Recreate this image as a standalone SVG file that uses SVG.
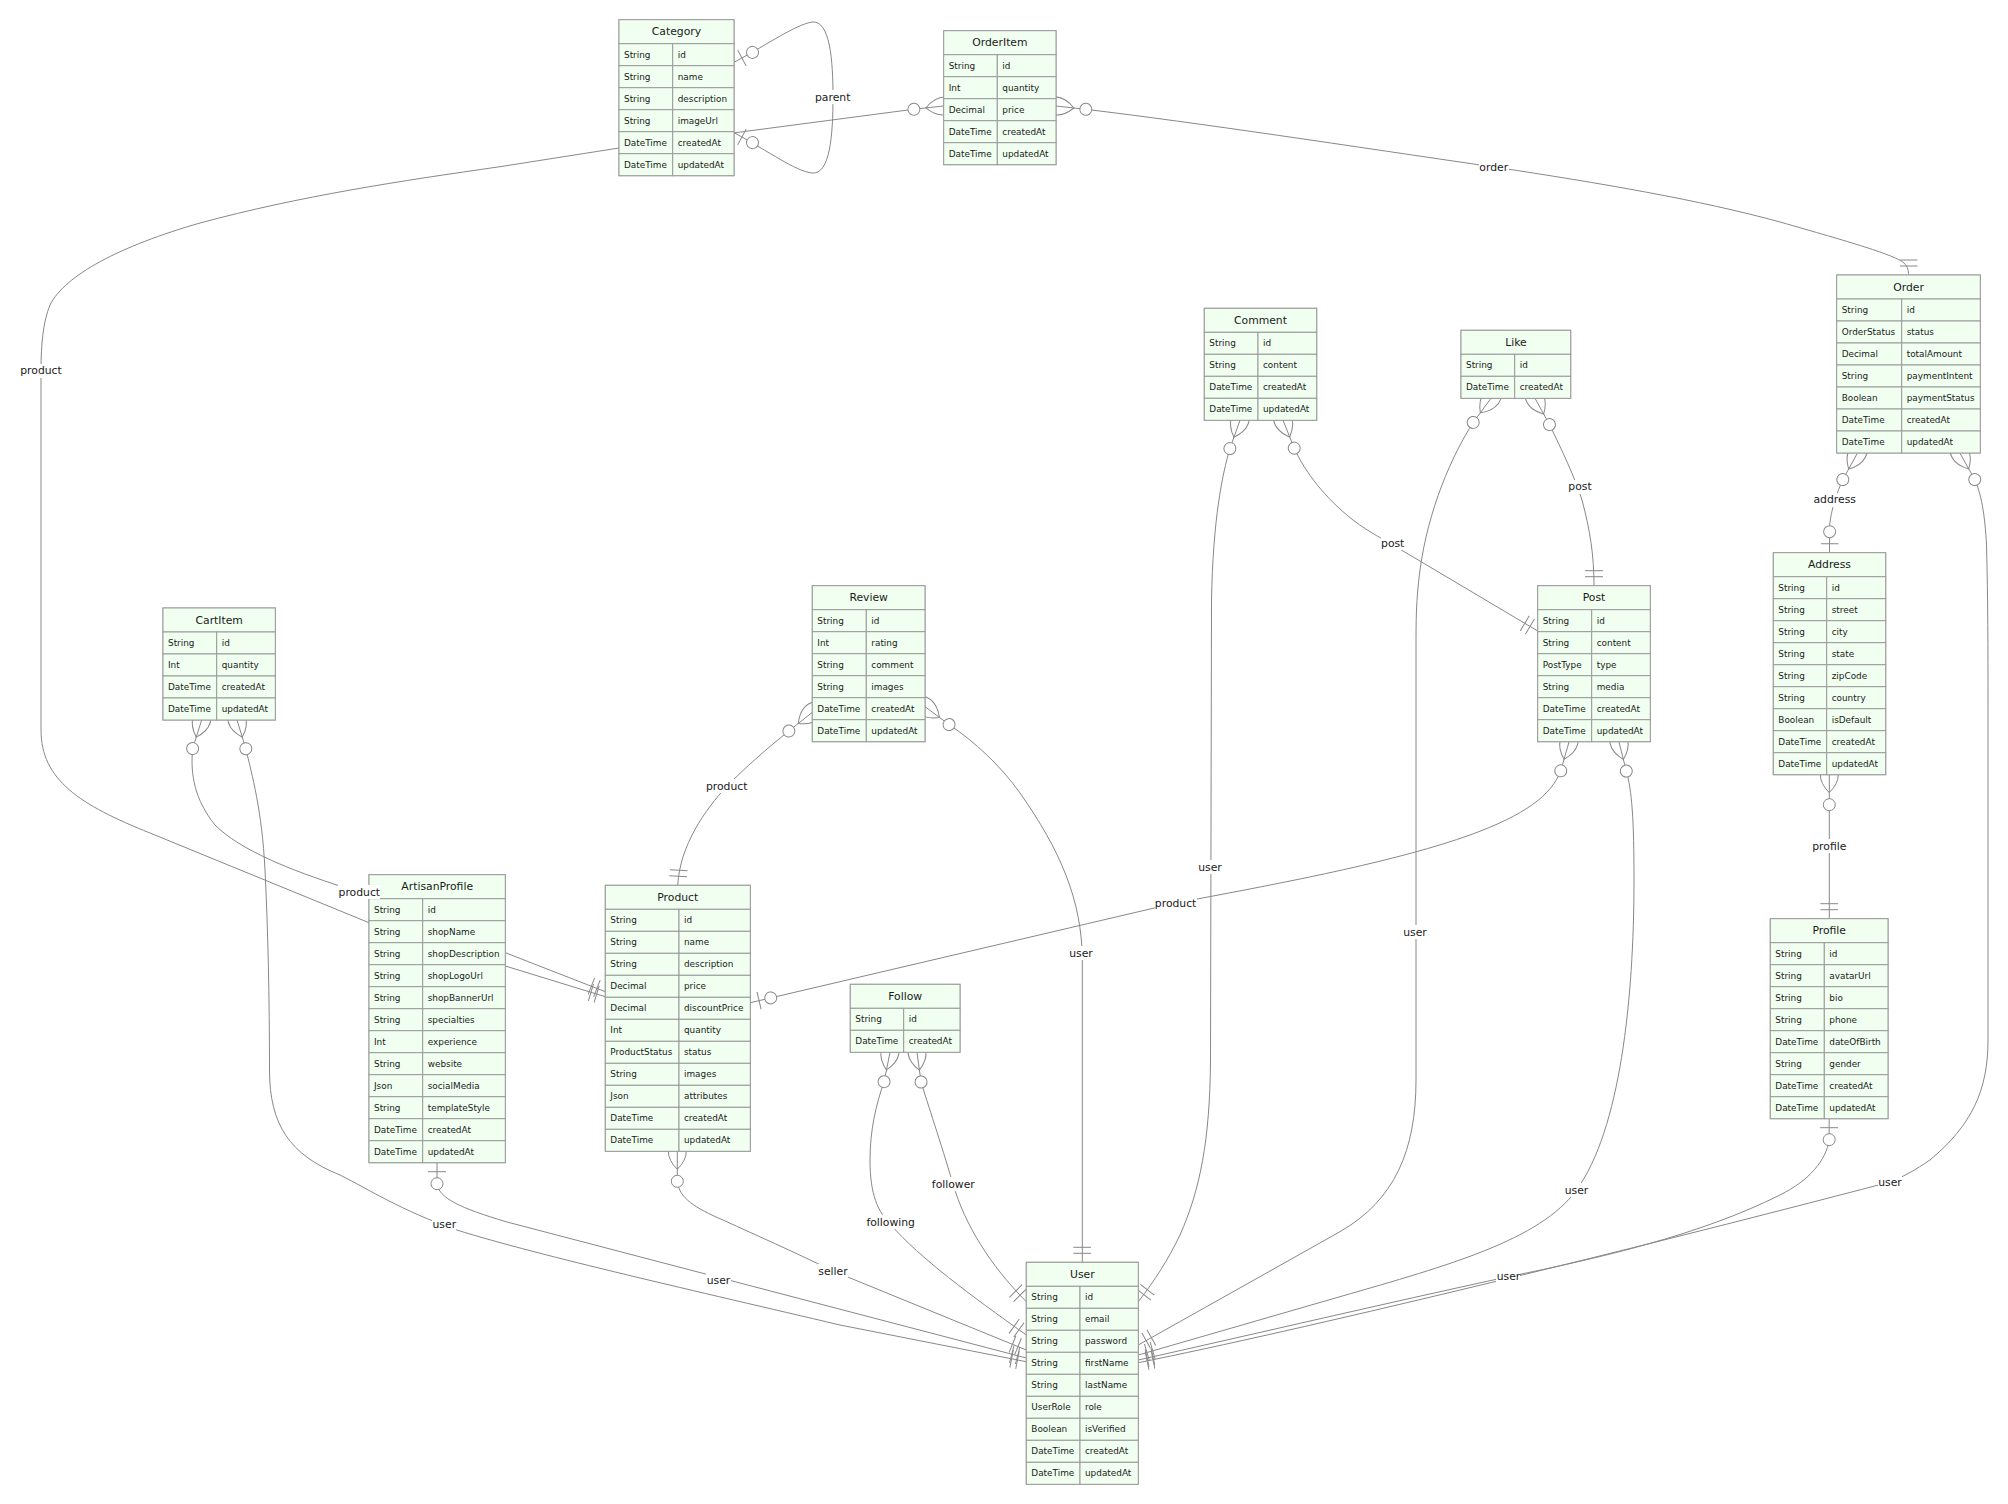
<svg xmlns="http://www.w3.org/2000/svg" width="2008" height="1504" viewBox="0 0 2008 1504">
<style>
.bg{fill:#ffffff}
.box{fill:#f0fff0;stroke:#999999;stroke-width:1}
.cell{fill:#f0fff0;stroke:#999999;stroke-width:1}
.title{font-family:"DejaVu Sans",Verdana,sans-serif;font-size:10.8px;fill:#1a1a1a;text-anchor:middle;dominant-baseline:central}
.attr{font-family:"DejaVu Sans",Verdana,sans-serif;font-size:8.9px;fill:#1a1a1a;dominant-baseline:central}
.rel{fill:none;stroke:#888888;stroke-width:1}
.mk{fill:none;stroke:#888888;stroke-width:1}
.mkc{fill:#ffffff;stroke:#888888;stroke-width:1}
.lbl{font-family:"DejaVu Sans",Verdana,sans-serif;font-size:10.8px;fill:#1a1a1a;text-anchor:middle;dominant-baseline:central}
.lblbg{fill:#ffffff}
</style>
<defs>
<marker id="onlyOneStart" refX="0" refY="9" markerWidth="18" markerHeight="18" orient="auto"><path class="mk" d="M9,0 L9,18 M15,0 L15,18"/></marker>
<marker id="onlyOneEnd" refX="18" refY="9" markerWidth="18" markerHeight="18" orient="auto"><path class="mk" d="M3,0 L3,18 M9,0 L9,18"/></marker>
<marker id="zeroOrOneStart" refX="0" refY="9" markerWidth="30" markerHeight="18" orient="auto"><circle class="mkc" cx="21" cy="9" r="6"/><path class="mk" d="M9,0 L9,18"/></marker>
<marker id="zeroOrOneEnd" refX="30" refY="9" markerWidth="30" markerHeight="18" orient="auto"><circle class="mkc" cx="9" cy="9" r="6"/><path class="mk" d="M21,0 L21,18"/></marker>
<marker id="zeroOrMoreStart" refX="18" refY="18" markerWidth="57" markerHeight="36" orient="auto"><circle class="mkc" cx="48" cy="18" r="6"/><path class="mk" d="M0,18 Q18,0 36,18 Q18,36 0,18"/></marker>
</defs>
<rect class="bg" x="0" y="0" width="2008" height="1504"/>

<g id="connectors">
<path id="rel-category-parent" class="rel" marker-start="url(#zeroOrOneStart)" marker-end="url(#zeroOrOneEnd)" d="M734,62.3 C770,43 795,25 812,22 C830,20 833,60 833,97 C833,135 830,175 812,173 C795,171 770,152 734,132.7"/>
<path id="rel-orderitem-product" class="rel" marker-start="url(#zeroOrMoreStart)" marker-end="url(#onlyOneEnd)" d="M943.7,106 L913.3,109.3 L619,148 L500,166.7 C400,181 300,196 200,223 C120,246 65,275 50,305 C43,322 41,345 41,370 L41,730 C41,780 80,805 150,833 L369,922.7 L505.3,966 L605.3,996.7"/>
<path id="rel-orderitem-order" class="rel" marker-start="url(#zeroOrMoreStart)" marker-end="url(#onlyOneEnd)" d="M1056,106 L1085.7,109.3 C1200,123 1350,146 1494,167 C1600,183 1700,200 1780,222 C1850,242 1895,255 1904,263 C1908,267 1908.5,271 1908.5,275"/>
<path id="rel-cartitem-product" class="rel" marker-start="url(#zeroOrMoreStart)" marker-end="url(#onlyOneEnd)" d="M201.7,720 L192.7,748.3 C190,775 195,800 215,825 C240,850 290,870 343,887 L369,899 L505.3,952.7 L605.3,991.7"/>
<path id="rel-cartitem-user" class="rel" marker-start="url(#zeroOrMoreStart)" marker-end="url(#onlyOneEnd)" d="M237,720 L245.7,748.3 C252,775 262,810 265,870 C268,930 269.5,1000 269.5,1070 C269.5,1125 290,1155 340,1175 C370,1190 400,1210 456.7,1230 C540,1256 700,1292 840,1325 L1026.3,1361.7"/>
<path id="rel-artisanprofile-user" class="rel" marker-start="url(#zeroOrOneStart)" marker-end="url(#onlyOneEnd)" d="M437,1162.7 L437,1183 C438,1198 460,1208 507,1222 L1026.3,1358"/>
<path id="rel-product-user" class="rel" marker-start="url(#zeroOrMoreStart)" marker-end="url(#onlyOneEnd)" d="M677.3,1151.3 L677.3,1181.3 C679,1198 695,1208 723,1220 C760,1237 790,1250 833,1271 L1026.3,1350"/>
<path id="rel-review-product" class="rel" marker-start="url(#zeroOrMoreStart)" marker-end="url(#onlyOneEnd)" d="M812.3,712.3 L789.3,730.7 C765,750 745,768 727,786 C705,810 680,845 677.7,885.3"/>
<path id="rel-review-user" class="rel" marker-start="url(#zeroOrMoreStart)" marker-end="url(#onlyOneEnd)" d="M925,706.7 L948.3,724 C975,742 1000,765 1020,793 C1060,850 1082,900 1082.3,960 L1082.3,1262.3"/>
<path id="rel-follow-following" class="rel" marker-start="url(#zeroOrMoreStart)" marker-end="url(#onlyOneEnd)" d="M890,1052.3 L884.3,1080.7 C876,1105 870,1130 870,1160 C870,1195 878,1212 891,1225 C920,1258 970,1295 1026.3,1335"/>
<path id="rel-follow-follower" class="rel" marker-start="url(#zeroOrMoreStart)" marker-end="url(#onlyOneEnd)" d="M917,1052.3 L921,1081.7 C928,1105 940,1140 953,1184 C965,1225 990,1265 1026.3,1301.7"/>
<path id="rel-comment-user" class="rel" marker-start="url(#zeroOrMoreStart)" marker-end="url(#onlyOneEnd)" d="M1240,420.3 L1230,448.3 C1222,475 1213,520 1211.5,600 L1210.5,1060 C1210,1140 1200,1190 1180,1235 C1168,1260 1155,1280 1138.3,1301.7"/>
<path id="rel-comment-post" class="rel" marker-start="url(#zeroOrMoreStart)" marker-end="url(#onlyOneEnd)" d="M1283,420.3 L1294.3,448.3 C1305,472 1325,498 1353,520 C1370,533 1385,540 1393,545 L1537.7,631"/>
<path id="rel-like-user" class="rel" marker-start="url(#zeroOrMoreStart)" marker-end="url(#onlyOneEnd)" d="M1491,398.3 L1473.3,422.3 C1452,455 1428,510 1420,570 C1416,600 1416,620 1416,650 L1416,1080 C1416,1150 1395,1200 1340,1231.7 L1138.3,1345"/>
<path id="rel-like-post" class="rel" marker-start="url(#zeroOrMoreStart)" marker-end="url(#onlyOneEnd)" d="M1535,398.3 L1549.3,424.3 C1562,450 1575,478 1582,500 C1590,530 1594,555 1594,585.7"/>
<path id="rel-post-product" class="rel" marker-start="url(#zeroOrMoreStart)" marker-end="url(#zeroOrOneEnd)" d="M1569,742 L1561,770 C1552,795 1525,815 1470,835 C1400,860 1300,880 1175.6,903 L750.3,1002.7"/>
<path id="rel-post-user" class="rel" marker-start="url(#zeroOrMoreStart)" marker-end="url(#onlyOneEnd)" d="M1619,742 L1626,770 C1632,790 1634,820 1634,880 C1634,1000 1620,1130 1576.5,1190 C1540,1240 1450,1265 1340,1296.7 L1138.3,1355"/>
<path id="rel-order-address" class="rel" marker-start="url(#zeroOrMoreStart)" marker-end="url(#zeroOrOneEnd)" d="M1857.3,453.3 L1843.3,478.7 C1837,492 1831,510 1829.7,525 L1829.5,552.7"/>
<path id="rel-order-user" class="rel" marker-start="url(#zeroOrMoreStart)" marker-end="url(#onlyOneEnd)" d="M1960,453.3 L1974.3,478.7 C1981,492 1985,515 1986.5,545 C1988,600 1988,650 1988,700 L1988,1040 C1988,1090 1972,1125 1930,1160 C1915,1170 1905,1176 1890,1182 C1600,1258 1300,1330 1138.3,1362.7"/>
<path id="rel-address-profile" class="rel" marker-start="url(#zeroOrMoreStart)" marker-end="url(#onlyOneEnd)" d="M1829.3,774.7 L1829.3,918.7"/>
<path id="rel-profile-user" class="rel" marker-start="url(#zeroOrOneStart)" marker-end="url(#onlyOneEnd)" d="M1829.2,1118.7 L1829.2,1140 C1826,1160 1810,1180 1780,1195 C1700,1235 1600,1258 1508.5,1276.7 C1400,1300 1250,1335 1138.3,1360"/>
</g>

<g id="entity-Category" transform="translate(619,19.7)">
<rect class="box" width="115" height="156"/>
<rect class="cell" width="115" height="24"/><text class="title" x="57.5" y="12">Category</text>
<rect class="cell" x="0" y="24" width="53.7" height="22"/><rect class="cell" x="53.7" y="24" width="61.3" height="22"/><text class="attr" x="5" y="35">String</text><text class="attr" x="58.7" y="35">id</text>
<rect class="cell" x="0" y="46" width="53.7" height="22"/><rect class="cell" x="53.7" y="46" width="61.3" height="22"/><text class="attr" x="5" y="57">String</text><text class="attr" x="58.7" y="57">name</text>
<rect class="cell" x="0" y="68" width="53.7" height="22"/><rect class="cell" x="53.7" y="68" width="61.3" height="22"/><text class="attr" x="5" y="79">String</text><text class="attr" x="58.7" y="79">description</text>
<rect class="cell" x="0" y="90" width="53.7" height="22"/><rect class="cell" x="53.7" y="90" width="61.3" height="22"/><text class="attr" x="5" y="101">String</text><text class="attr" x="58.7" y="101">imageUrl</text>
<rect class="cell" x="0" y="112" width="53.7" height="22"/><rect class="cell" x="53.7" y="112" width="61.3" height="22"/><text class="attr" x="5" y="123">DateTime</text><text class="attr" x="58.7" y="123">createdAt</text>
<rect class="cell" x="0" y="134" width="53.7" height="22"/><rect class="cell" x="53.7" y="134" width="61.3" height="22"/><text class="attr" x="5" y="145">DateTime</text><text class="attr" x="58.7" y="145">updatedAt</text>
</g>

<g id="entity-OrderItem" transform="translate(943.7,30.7)">
<rect class="box" width="112.3" height="134"/>
<rect class="cell" width="112.3" height="24"/><text class="title" x="56.2" y="12">OrderItem</text>
<rect class="cell" x="0" y="24" width="53.6" height="22"/><rect class="cell" x="53.6" y="24" width="58.7" height="22"/><text class="attr" x="5" y="35">String</text><text class="attr" x="58.6" y="35">id</text>
<rect class="cell" x="0" y="46" width="53.6" height="22"/><rect class="cell" x="53.6" y="46" width="58.7" height="22"/><text class="attr" x="5" y="57">Int</text><text class="attr" x="58.6" y="57">quantity</text>
<rect class="cell" x="0" y="68" width="53.6" height="22"/><rect class="cell" x="53.6" y="68" width="58.7" height="22"/><text class="attr" x="5" y="79">Decimal</text><text class="attr" x="58.6" y="79">price</text>
<rect class="cell" x="0" y="90" width="53.6" height="22"/><rect class="cell" x="53.6" y="90" width="58.7" height="22"/><text class="attr" x="5" y="101">DateTime</text><text class="attr" x="58.6" y="101">createdAt</text>
<rect class="cell" x="0" y="112" width="53.6" height="22"/><rect class="cell" x="53.6" y="112" width="58.7" height="22"/><text class="attr" x="5" y="123">DateTime</text><text class="attr" x="58.6" y="123">updatedAt</text>
</g>

<g id="entity-Comment" transform="translate(1204.3,308.3)">
<rect class="box" width="112.4" height="112"/>
<rect class="cell" width="112.4" height="24"/><text class="title" x="56.2" y="12">Comment</text>
<rect class="cell" x="0" y="24" width="53.7" height="22"/><rect class="cell" x="53.7" y="24" width="58.7" height="22"/><text class="attr" x="5" y="35">String</text><text class="attr" x="58.7" y="35">id</text>
<rect class="cell" x="0" y="46" width="53.7" height="22"/><rect class="cell" x="53.7" y="46" width="58.7" height="22"/><text class="attr" x="5" y="57">String</text><text class="attr" x="58.7" y="57">content</text>
<rect class="cell" x="0" y="68" width="53.7" height="22"/><rect class="cell" x="53.7" y="68" width="58.7" height="22"/><text class="attr" x="5" y="79">DateTime</text><text class="attr" x="58.7" y="79">createdAt</text>
<rect class="cell" x="0" y="90" width="53.7" height="22"/><rect class="cell" x="53.7" y="90" width="58.7" height="22"/><text class="attr" x="5" y="101">DateTime</text><text class="attr" x="58.7" y="101">updatedAt</text>
</g>

<g id="entity-Like" transform="translate(1461,330.3)">
<rect class="box" width="109.7" height="68"/>
<rect class="cell" width="109.7" height="24"/><text class="title" x="54.9" y="12">Like</text>
<rect class="cell" x="0" y="24" width="53.7" height="22"/><rect class="cell" x="53.7" y="24" width="56" height="22"/><text class="attr" x="5" y="35">String</text><text class="attr" x="58.7" y="35">id</text>
<rect class="cell" x="0" y="46" width="53.7" height="22"/><rect class="cell" x="53.7" y="46" width="56" height="22"/><text class="attr" x="5" y="57">DateTime</text><text class="attr" x="58.7" y="57">createdAt</text>
</g>

<g id="entity-Post" transform="translate(1537.7,585.7)">
<rect class="box" width="112.6" height="156"/>
<rect class="cell" width="112.6" height="24"/><text class="title" x="56.3" y="12">Post</text>
<rect class="cell" x="0" y="24" width="54" height="22"/><rect class="cell" x="54" y="24" width="58.6" height="22"/><text class="attr" x="5" y="35">String</text><text class="attr" x="59" y="35">id</text>
<rect class="cell" x="0" y="46" width="54" height="22"/><rect class="cell" x="54" y="46" width="58.6" height="22"/><text class="attr" x="5" y="57">String</text><text class="attr" x="59" y="57">content</text>
<rect class="cell" x="0" y="68" width="54" height="22"/><rect class="cell" x="54" y="68" width="58.6" height="22"/><text class="attr" x="5" y="79">PostType</text><text class="attr" x="59" y="79">type</text>
<rect class="cell" x="0" y="90" width="54" height="22"/><rect class="cell" x="54" y="90" width="58.6" height="22"/><text class="attr" x="5" y="101">String</text><text class="attr" x="59" y="101">media</text>
<rect class="cell" x="0" y="112" width="54" height="22"/><rect class="cell" x="54" y="112" width="58.6" height="22"/><text class="attr" x="5" y="123">DateTime</text><text class="attr" x="59" y="123">createdAt</text>
<rect class="cell" x="0" y="134" width="54" height="22"/><rect class="cell" x="54" y="134" width="58.6" height="22"/><text class="attr" x="5" y="145">DateTime</text><text class="attr" x="59" y="145">updatedAt</text>
</g>

<g id="entity-Order" transform="translate(1836.7,275)">
<rect class="box" width="143.6" height="178"/>
<rect class="cell" width="143.6" height="24"/><text class="title" x="71.8" y="12">Order</text>
<rect class="cell" x="0" y="24" width="65" height="22"/><rect class="cell" x="65" y="24" width="78.6" height="22"/><text class="attr" x="5" y="35">String</text><text class="attr" x="70" y="35">id</text>
<rect class="cell" x="0" y="46" width="65" height="22"/><rect class="cell" x="65" y="46" width="78.6" height="22"/><text class="attr" x="5" y="57">OrderStatus</text><text class="attr" x="70" y="57">status</text>
<rect class="cell" x="0" y="68" width="65" height="22"/><rect class="cell" x="65" y="68" width="78.6" height="22"/><text class="attr" x="5" y="79">Decimal</text><text class="attr" x="70" y="79">totalAmount</text>
<rect class="cell" x="0" y="90" width="65" height="22"/><rect class="cell" x="65" y="90" width="78.6" height="22"/><text class="attr" x="5" y="101">String</text><text class="attr" x="70" y="101">paymentIntent</text>
<rect class="cell" x="0" y="112" width="65" height="22"/><rect class="cell" x="65" y="112" width="78.6" height="22"/><text class="attr" x="5" y="123">Boolean</text><text class="attr" x="70" y="123">paymentStatus</text>
<rect class="cell" x="0" y="134" width="65" height="22"/><rect class="cell" x="65" y="134" width="78.6" height="22"/><text class="attr" x="5" y="145">DateTime</text><text class="attr" x="70" y="145">createdAt</text>
<rect class="cell" x="0" y="156" width="65" height="22"/><rect class="cell" x="65" y="156" width="78.6" height="22"/><text class="attr" x="5" y="167">DateTime</text><text class="attr" x="70" y="167">updatedAt</text>
</g>

<g id="entity-Address" transform="translate(1773.3,552.7)">
<rect class="box" width="112.4" height="222"/>
<rect class="cell" width="112.4" height="24"/><text class="title" x="56.2" y="12">Address</text>
<rect class="cell" x="0" y="24" width="53.4" height="22"/><rect class="cell" x="53.4" y="24" width="59" height="22"/><text class="attr" x="5" y="35">String</text><text class="attr" x="58.4" y="35">id</text>
<rect class="cell" x="0" y="46" width="53.4" height="22"/><rect class="cell" x="53.4" y="46" width="59" height="22"/><text class="attr" x="5" y="57">String</text><text class="attr" x="58.4" y="57">street</text>
<rect class="cell" x="0" y="68" width="53.4" height="22"/><rect class="cell" x="53.4" y="68" width="59" height="22"/><text class="attr" x="5" y="79">String</text><text class="attr" x="58.4" y="79">city</text>
<rect class="cell" x="0" y="90" width="53.4" height="22"/><rect class="cell" x="53.4" y="90" width="59" height="22"/><text class="attr" x="5" y="101">String</text><text class="attr" x="58.4" y="101">state</text>
<rect class="cell" x="0" y="112" width="53.4" height="22"/><rect class="cell" x="53.4" y="112" width="59" height="22"/><text class="attr" x="5" y="123">String</text><text class="attr" x="58.4" y="123">zipCode</text>
<rect class="cell" x="0" y="134" width="53.4" height="22"/><rect class="cell" x="53.4" y="134" width="59" height="22"/><text class="attr" x="5" y="145">String</text><text class="attr" x="58.4" y="145">country</text>
<rect class="cell" x="0" y="156" width="53.4" height="22"/><rect class="cell" x="53.4" y="156" width="59" height="22"/><text class="attr" x="5" y="167">Boolean</text><text class="attr" x="58.4" y="167">isDefault</text>
<rect class="cell" x="0" y="178" width="53.4" height="22"/><rect class="cell" x="53.4" y="178" width="59" height="22"/><text class="attr" x="5" y="189">DateTime</text><text class="attr" x="58.4" y="189">createdAt</text>
<rect class="cell" x="0" y="200" width="53.4" height="22"/><rect class="cell" x="53.4" y="200" width="59" height="22"/><text class="attr" x="5" y="211">DateTime</text><text class="attr" x="58.4" y="211">updatedAt</text>
</g>

<g id="entity-Profile" transform="translate(1770.3,918.7)">
<rect class="box" width="117.7" height="200"/>
<rect class="cell" width="117.7" height="24"/><text class="title" x="58.9" y="12">Profile</text>
<rect class="cell" x="0" y="24" width="54" height="22"/><rect class="cell" x="54" y="24" width="63.7" height="22"/><text class="attr" x="5" y="35">String</text><text class="attr" x="59" y="35">id</text>
<rect class="cell" x="0" y="46" width="54" height="22"/><rect class="cell" x="54" y="46" width="63.7" height="22"/><text class="attr" x="5" y="57">String</text><text class="attr" x="59" y="57">avatarUrl</text>
<rect class="cell" x="0" y="68" width="54" height="22"/><rect class="cell" x="54" y="68" width="63.7" height="22"/><text class="attr" x="5" y="79">String</text><text class="attr" x="59" y="79">bio</text>
<rect class="cell" x="0" y="90" width="54" height="22"/><rect class="cell" x="54" y="90" width="63.7" height="22"/><text class="attr" x="5" y="101">String</text><text class="attr" x="59" y="101">phone</text>
<rect class="cell" x="0" y="112" width="54" height="22"/><rect class="cell" x="54" y="112" width="63.7" height="22"/><text class="attr" x="5" y="123">DateTime</text><text class="attr" x="59" y="123">dateOfBirth</text>
<rect class="cell" x="0" y="134" width="54" height="22"/><rect class="cell" x="54" y="134" width="63.7" height="22"/><text class="attr" x="5" y="145">String</text><text class="attr" x="59" y="145">gender</text>
<rect class="cell" x="0" y="156" width="54" height="22"/><rect class="cell" x="54" y="156" width="63.7" height="22"/><text class="attr" x="5" y="167">DateTime</text><text class="attr" x="59" y="167">createdAt</text>
<rect class="cell" x="0" y="178" width="54" height="22"/><rect class="cell" x="54" y="178" width="63.7" height="22"/><text class="attr" x="5" y="189">DateTime</text><text class="attr" x="59" y="189">updatedAt</text>
</g>

<g id="entity-Review" transform="translate(812.3,585.7)">
<rect class="box" width="112.7" height="156"/>
<rect class="cell" width="112.7" height="24"/><text class="title" x="56.4" y="12">Review</text>
<rect class="cell" x="0" y="24" width="54" height="22"/><rect class="cell" x="54" y="24" width="58.7" height="22"/><text class="attr" x="5" y="35">String</text><text class="attr" x="59" y="35">id</text>
<rect class="cell" x="0" y="46" width="54" height="22"/><rect class="cell" x="54" y="46" width="58.7" height="22"/><text class="attr" x="5" y="57">Int</text><text class="attr" x="59" y="57">rating</text>
<rect class="cell" x="0" y="68" width="54" height="22"/><rect class="cell" x="54" y="68" width="58.7" height="22"/><text class="attr" x="5" y="79">String</text><text class="attr" x="59" y="79">comment</text>
<rect class="cell" x="0" y="90" width="54" height="22"/><rect class="cell" x="54" y="90" width="58.7" height="22"/><text class="attr" x="5" y="101">String</text><text class="attr" x="59" y="101">images</text>
<rect class="cell" x="0" y="112" width="54" height="22"/><rect class="cell" x="54" y="112" width="58.7" height="22"/><text class="attr" x="5" y="123">DateTime</text><text class="attr" x="59" y="123">createdAt</text>
<rect class="cell" x="0" y="134" width="54" height="22"/><rect class="cell" x="54" y="134" width="58.7" height="22"/><text class="attr" x="5" y="145">DateTime</text><text class="attr" x="59" y="145">updatedAt</text>
</g>

<g id="entity-Product" transform="translate(605.3,885.3)">
<rect class="box" width="145" height="266"/>
<rect class="cell" width="145" height="24"/><text class="title" x="72.5" y="12">Product</text>
<rect class="cell" x="0" y="24" width="73.7" height="22"/><rect class="cell" x="73.7" y="24" width="71.3" height="22"/><text class="attr" x="5" y="35">String</text><text class="attr" x="78.7" y="35">id</text>
<rect class="cell" x="0" y="46" width="73.7" height="22"/><rect class="cell" x="73.7" y="46" width="71.3" height="22"/><text class="attr" x="5" y="57">String</text><text class="attr" x="78.7" y="57">name</text>
<rect class="cell" x="0" y="68" width="73.7" height="22"/><rect class="cell" x="73.7" y="68" width="71.3" height="22"/><text class="attr" x="5" y="79">String</text><text class="attr" x="78.7" y="79">description</text>
<rect class="cell" x="0" y="90" width="73.7" height="22"/><rect class="cell" x="73.7" y="90" width="71.3" height="22"/><text class="attr" x="5" y="101">Decimal</text><text class="attr" x="78.7" y="101">price</text>
<rect class="cell" x="0" y="112" width="73.7" height="22"/><rect class="cell" x="73.7" y="112" width="71.3" height="22"/><text class="attr" x="5" y="123">Decimal</text><text class="attr" x="78.7" y="123">discountPrice</text>
<rect class="cell" x="0" y="134" width="73.7" height="22"/><rect class="cell" x="73.7" y="134" width="71.3" height="22"/><text class="attr" x="5" y="145">Int</text><text class="attr" x="78.7" y="145">quantity</text>
<rect class="cell" x="0" y="156" width="73.7" height="22"/><rect class="cell" x="73.7" y="156" width="71.3" height="22"/><text class="attr" x="5" y="167">ProductStatus</text><text class="attr" x="78.7" y="167">status</text>
<rect class="cell" x="0" y="178" width="73.7" height="22"/><rect class="cell" x="73.7" y="178" width="71.3" height="22"/><text class="attr" x="5" y="189">String</text><text class="attr" x="78.7" y="189">images</text>
<rect class="cell" x="0" y="200" width="73.7" height="22"/><rect class="cell" x="73.7" y="200" width="71.3" height="22"/><text class="attr" x="5" y="211">Json</text><text class="attr" x="78.7" y="211">attributes</text>
<rect class="cell" x="0" y="222" width="73.7" height="22"/><rect class="cell" x="73.7" y="222" width="71.3" height="22"/><text class="attr" x="5" y="233">DateTime</text><text class="attr" x="78.7" y="233">createdAt</text>
<rect class="cell" x="0" y="244" width="73.7" height="22"/><rect class="cell" x="73.7" y="244" width="71.3" height="22"/><text class="attr" x="5" y="255">DateTime</text><text class="attr" x="78.7" y="255">updatedAt</text>
</g>

<g id="entity-Follow" transform="translate(850.3,984.3)">
<rect class="box" width="109.7" height="68"/>
<rect class="cell" width="109.7" height="24"/><text class="title" x="54.9" y="12">Follow</text>
<rect class="cell" x="0" y="24" width="53.4" height="22"/><rect class="cell" x="53.4" y="24" width="56.3" height="22"/><text class="attr" x="5" y="35">String</text><text class="attr" x="58.4" y="35">id</text>
<rect class="cell" x="0" y="46" width="53.4" height="22"/><rect class="cell" x="53.4" y="46" width="56.3" height="22"/><text class="attr" x="5" y="57">DateTime</text><text class="attr" x="58.4" y="57">createdAt</text>
</g>

<g id="entity-CartItem" transform="translate(163,608)">
<rect class="box" width="112.3" height="112"/>
<rect class="cell" width="112.3" height="24"/><text class="title" x="56.2" y="12">CartItem</text>
<rect class="cell" x="0" y="24" width="53.7" height="22"/><rect class="cell" x="53.7" y="24" width="58.6" height="22"/><text class="attr" x="5" y="35">String</text><text class="attr" x="58.7" y="35">id</text>
<rect class="cell" x="0" y="46" width="53.7" height="22"/><rect class="cell" x="53.7" y="46" width="58.6" height="22"/><text class="attr" x="5" y="57">Int</text><text class="attr" x="58.7" y="57">quantity</text>
<rect class="cell" x="0" y="68" width="53.7" height="22"/><rect class="cell" x="53.7" y="68" width="58.6" height="22"/><text class="attr" x="5" y="79">DateTime</text><text class="attr" x="58.7" y="79">createdAt</text>
<rect class="cell" x="0" y="90" width="53.7" height="22"/><rect class="cell" x="53.7" y="90" width="58.6" height="22"/><text class="attr" x="5" y="101">DateTime</text><text class="attr" x="58.7" y="101">updatedAt</text>
</g>

<g id="entity-ArtisanProfile" transform="translate(369,874.7)">
<rect class="box" width="136.3" height="288"/>
<rect class="cell" width="136.3" height="24"/><text class="title" x="68.2" y="12">ArtisanProfile</text>
<rect class="cell" x="0" y="24" width="53.7" height="22"/><rect class="cell" x="53.7" y="24" width="82.6" height="22"/><text class="attr" x="5" y="35">String</text><text class="attr" x="58.7" y="35">id</text>
<rect class="cell" x="0" y="46" width="53.7" height="22"/><rect class="cell" x="53.7" y="46" width="82.6" height="22"/><text class="attr" x="5" y="57">String</text><text class="attr" x="58.7" y="57">shopName</text>
<rect class="cell" x="0" y="68" width="53.7" height="22"/><rect class="cell" x="53.7" y="68" width="82.6" height="22"/><text class="attr" x="5" y="79">String</text><text class="attr" x="58.7" y="79">shopDescription</text>
<rect class="cell" x="0" y="90" width="53.7" height="22"/><rect class="cell" x="53.7" y="90" width="82.6" height="22"/><text class="attr" x="5" y="101">String</text><text class="attr" x="58.7" y="101">shopLogoUrl</text>
<rect class="cell" x="0" y="112" width="53.7" height="22"/><rect class="cell" x="53.7" y="112" width="82.6" height="22"/><text class="attr" x="5" y="123">String</text><text class="attr" x="58.7" y="123">shopBannerUrl</text>
<rect class="cell" x="0" y="134" width="53.7" height="22"/><rect class="cell" x="53.7" y="134" width="82.6" height="22"/><text class="attr" x="5" y="145">String</text><text class="attr" x="58.7" y="145">specialties</text>
<rect class="cell" x="0" y="156" width="53.7" height="22"/><rect class="cell" x="53.7" y="156" width="82.6" height="22"/><text class="attr" x="5" y="167">Int</text><text class="attr" x="58.7" y="167">experience</text>
<rect class="cell" x="0" y="178" width="53.7" height="22"/><rect class="cell" x="53.7" y="178" width="82.6" height="22"/><text class="attr" x="5" y="189">String</text><text class="attr" x="58.7" y="189">website</text>
<rect class="cell" x="0" y="200" width="53.7" height="22"/><rect class="cell" x="53.7" y="200" width="82.6" height="22"/><text class="attr" x="5" y="211">Json</text><text class="attr" x="58.7" y="211">socialMedia</text>
<rect class="cell" x="0" y="222" width="53.7" height="22"/><rect class="cell" x="53.7" y="222" width="82.6" height="22"/><text class="attr" x="5" y="233">String</text><text class="attr" x="58.7" y="233">templateStyle</text>
<rect class="cell" x="0" y="244" width="53.7" height="22"/><rect class="cell" x="53.7" y="244" width="82.6" height="22"/><text class="attr" x="5" y="255">DateTime</text><text class="attr" x="58.7" y="255">createdAt</text>
<rect class="cell" x="0" y="266" width="53.7" height="22"/><rect class="cell" x="53.7" y="266" width="82.6" height="22"/><text class="attr" x="5" y="277">DateTime</text><text class="attr" x="58.7" y="277">updatedAt</text>
</g>

<g id="entity-User" transform="translate(1026.3,1262.3)">
<rect class="box" width="112" height="222"/>
<rect class="cell" width="112" height="24"/><text class="title" x="56" y="12">User</text>
<rect class="cell" x="0" y="24" width="53.7" height="22"/><rect class="cell" x="53.7" y="24" width="58.3" height="22"/><text class="attr" x="5" y="35">String</text><text class="attr" x="58.7" y="35">id</text>
<rect class="cell" x="0" y="46" width="53.7" height="22"/><rect class="cell" x="53.7" y="46" width="58.3" height="22"/><text class="attr" x="5" y="57">String</text><text class="attr" x="58.7" y="57">email</text>
<rect class="cell" x="0" y="68" width="53.7" height="22"/><rect class="cell" x="53.7" y="68" width="58.3" height="22"/><text class="attr" x="5" y="79">String</text><text class="attr" x="58.7" y="79">password</text>
<rect class="cell" x="0" y="90" width="53.7" height="22"/><rect class="cell" x="53.7" y="90" width="58.3" height="22"/><text class="attr" x="5" y="101">String</text><text class="attr" x="58.7" y="101">firstName</text>
<rect class="cell" x="0" y="112" width="53.7" height="22"/><rect class="cell" x="53.7" y="112" width="58.3" height="22"/><text class="attr" x="5" y="123">String</text><text class="attr" x="58.7" y="123">lastName</text>
<rect class="cell" x="0" y="134" width="53.7" height="22"/><rect class="cell" x="53.7" y="134" width="58.3" height="22"/><text class="attr" x="5" y="145">UserRole</text><text class="attr" x="58.7" y="145">role</text>
<rect class="cell" x="0" y="156" width="53.7" height="22"/><rect class="cell" x="53.7" y="156" width="58.3" height="22"/><text class="attr" x="5" y="167">Boolean</text><text class="attr" x="58.7" y="167">isVerified</text>
<rect class="cell" x="0" y="178" width="53.7" height="22"/><rect class="cell" x="53.7" y="178" width="58.3" height="22"/><text class="attr" x="5" y="189">DateTime</text><text class="attr" x="58.7" y="189">createdAt</text>
<rect class="cell" x="0" y="200" width="53.7" height="22"/><rect class="cell" x="53.7" y="200" width="58.3" height="22"/><text class="attr" x="5" y="211">DateTime</text><text class="attr" x="58.7" y="211">updatedAt</text>
</g>

<g id="connector-labels">
<rect class="lblbg" x="815" y="90" width="36" height="14"/><text class="lbl" x="832.7" y="97">parent</text>
<rect class="lblbg" x="1479" y="160" width="30" height="14"/><text class="lbl" x="1493.7" y="167.3">order</text>
<rect class="lblbg" x="20" y="364" width="42" height="14"/><text class="lbl" x="41" y="370.7">product</text>
<rect class="lblbg" x="338" y="885" width="42" height="14"/><text class="lbl" x="359.3" y="892.3">product</text>
<rect class="lblbg" x="706" y="779" width="42" height="14"/><text class="lbl" x="726.7" y="786">product</text>
<rect class="lblbg" x="1155" y="896" width="42" height="14"/><text class="lbl" x="1175.6" y="903">product</text>
<rect class="lblbg" x="1198" y="860" width="24" height="14"/><text class="lbl" x="1210" y="867">user</text>
<rect class="lblbg" x="1381" y="536" width="24" height="14"/><text class="lbl" x="1392.7" y="543.3">post</text>
<rect class="lblbg" x="1403" y="925" width="24" height="14"/><text class="lbl" x="1415" y="932">user</text>
<rect class="lblbg" x="1568" y="480" width="24" height="14"/><text class="lbl" x="1580" y="486.7">post</text>
<rect class="lblbg" x="1813" y="493" width="43" height="14"/><text class="lbl" x="1834.7" y="499.7">address</text>
<rect class="lblbg" x="1812" y="839" width="35" height="14"/><text class="lbl" x="1829.3" y="846">profile</text>
<rect class="lblbg" x="1564" y="1183" width="24" height="14"/><text class="lbl" x="1576.5" y="1190">user</text>
<rect class="lblbg" x="1878" y="1175" width="24" height="14"/><text class="lbl" x="1890" y="1182">user</text>
<rect class="lblbg" x="1496" y="1270" width="24" height="14"/><text class="lbl" x="1508.5" y="1276.7">user</text>
<rect class="lblbg" x="1069" y="946" width="24" height="14"/><text class="lbl" x="1081" y="953">user</text>
<rect class="lblbg" x="866" y="1215" width="49" height="14"/><text class="lbl" x="890.7" y="1222">following</text>
<rect class="lblbg" x="931" y="1177" width="44" height="14"/><text class="lbl" x="953.3" y="1184">follower</text>
<rect class="lblbg" x="818" y="1264" width="30" height="14"/><text class="lbl" x="833" y="1271">seller</text>
<rect class="lblbg" x="432" y="1217" width="24" height="14"/><text class="lbl" x="444.3" y="1224">user</text>
<rect class="lblbg" x="706" y="1273" width="25" height="14"/><text class="lbl" x="718.5" y="1280.3">user</text>
</g>
</svg>
